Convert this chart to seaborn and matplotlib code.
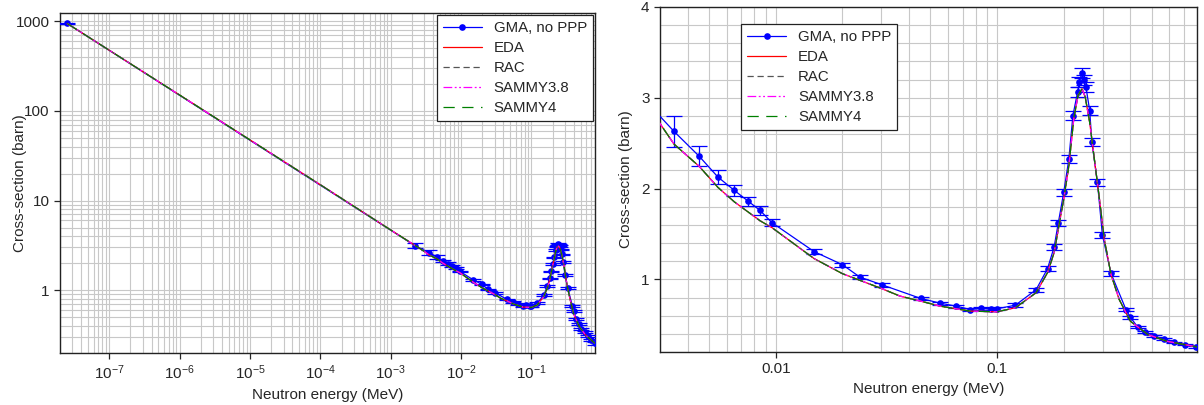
import matplotlib
matplotlib.use("Agg")
import matplotlib.pyplot as plt
import matplotlib.ticker as mticker
import numpy as np
import pandas as pd
import seaborn as sns

# ---------------- data ----------------
gma_energy = [2.53e-8, 0.0022, 0.00347, 0.00451, 0.00548, 0.0065, 0.0075, 0.0085, 0.0096,
              0.0149, 0.020, 0.024, 0.0302, 0.0452, 0.0553, 0.0654, 0.0757, 0.0846, 0.094,
              0.100, 0.121, 0.150, 0.169, 0.181, 0.189, 0.200, 0.211, 0.220, 0.231, 0.235,
              0.242, 0.246, 0.252, 0.262, 0.268, 0.284, 0.299, 0.327, 0.382, 0.400, 0.432,
              0.468, 0.514, 0.570, 0.633, 0.703, 0.795]
gma_sigma = [940, 3.15, 2.63, 2.356, 2.127, 1.98, 1.862, 1.759, 1.626,
             1.306, 1.162, 1.025, 0.94, 0.79, 0.738, 0.705, 0.668, 0.68, 0.672,
             0.676, 0.716, 0.886, 1.118, 1.357, 1.622, 1.958, 2.326, 2.804, 3.063, 3.173,
             3.276, 3.20, 3.118, 2.86, 2.51, 2.068, 1.49, 1.066, 0.668, 0.583, 0.473,
             0.418, 0.373, 0.345, 0.307, 0.282, 0.256]
gma_error = [8, 0.2, 0.17, 0.11, 0.075, 0.06, 0.05, 0.045, 0.035,
             0.025, 0.022, 0.02, 0.02, 0.018, 0.018, 0.018, 0.018, 0.018, 0.018,
             0.018, 0.02, 0.02, 0.025, 0.03, 0.035, 0.04, 0.045, 0.05, 0.055, 0.055,
             0.055, 0.055, 0.055, 0.05, 0.045, 0.04, 0.03, 0.025, 0.018, 0.015, 0.012,
             0.01, 0.01, 0.01, 0.008, 0.008, 0.008]

theory_energy = [2.53e-8, 1e-6, 1e-4, 1e-3, 0.003, 0.00347, 0.00451, 0.00548, 0.0065,
                 0.0085, 0.0096, 0.0149, 0.02, 0.0302, 0.0364, 0.0452, 0.0553, 0.0757,
                 0.1, 0.121, 0.15, 0.169, 0.181, 0.2, 0.211, 0.222, 0.232, 0.242, 0.25,
                 0.262, 0.275, 0.29, 0.305, 0.327, 0.356, 0.40, 0.48, 0.585, 0.80]
eda_sigma = [940, 150, 15, 4.7, 2.716, 2.49, 2.245, 2.013, 1.854,
             1.645, 1.571, 1.229, 1.063, 0.897, 0.816, 0.76, 0.705, 0.65,
             0.643, 0.687, 0.853, 1.074, 1.295, 1.884, 2.252, 2.768, 3.025, 3.10, 3.01,
             2.73, 2.326, 1.884, 1.442, 1.055, 0.779, 0.539, 0.392, 0.318, 0.256]
rac_sigma = list(eda_sigma)
sammy38_sigma = list(eda_sigma)
sammy4_sigma = list(eda_sigma)

left_xticks = [1e-7, 1e-6, 1e-5, 1e-4, 1e-3, 1e-2, 1e-1]
left_yticks = [1, 10, 100, 1000]
right_xticks = [0.01, 0.1]
right_xticklabels = ["0.01", "0.1"]
right_yticks = [1, 2, 3, 4]

gma_df = pd.DataFrame({"E": gma_energy, "sigma": gma_sigma, "err": gma_error})
theory_df = pd.DataFrame({"E": theory_energy, "EDA": eda_sigma, "RAC": rac_sigma,
                          "SAMMY3.8": sammy38_sigma, "SAMMY4": sammy4_sigma})

# ---------------- style ----------------
sns.set_theme(style="ticks")
plt.rcParams["font.family"] = ["Liberation Sans", "DejaVu Sans"]
plt.rcParams["mathtext.default"] = "regular"
TXT = "#262626"
plt.rcParams.update({
    "text.color": TXT, "axes.labelcolor": TXT, "xtick.color": TXT, "ytick.color": TXT,
    "axes.edgecolor": "#222222", "axes.linewidth": 1.0,
    "xtick.labelsize": 11, "ytick.labelsize": 11, "axes.labelsize": 11,
    "legend.fontsize": 10.8,
})

fig = plt.figure(figsize=(12.04, 4.05), dpi=100)
ax1 = fig.add_axes([60 / 1204, 1 - 353 / 405, (595 - 60) / 1204, (353 - 13) / 405])
ax2 = fig.add_axes([660 / 1204, 1 - 352 / 405, (1197 - 660) / 1204, (352 - 7) / 405])

theory_styles = [
    ("EDA", "red", "-"),
    ("RAC", "#555555", (0, (5, 3))),
    ("SAMMY3.8", "magenta", (0, (7, 2, 1.5, 2, 1.5, 2))),
    ("SAMMY4", "green", (0, (9, 6))),
]


def draw(ax, logy):
    ax.set_xscale("log")
    if logy:
        ax.set_yscale("log")
    ax.errorbar(gma_df["E"], gma_df["sigma"], yerr=gma_df["err"], fmt="none",
                ecolor="blue", elinewidth=0.9, capsize=6, capthick=0.9, zorder=3)
    sns.lineplot(data=gma_df, x="E", y="sigma", ax=ax, color="blue", lw=0.9,
                 marker="o", markersize=4.8, markeredgewidth=0, label="GMA, no PPP",
                 zorder=4)
    for name, col, ls in theory_styles:
        sns.lineplot(data=theory_df, x="E", y=name, ax=ax, color=col, lw=0.9,
                     linestyle=ls, label=name, zorder=5)
    ax.grid(True, which="both", color="#c8c8c8", lw=0.8)
    ax.set_axisbelow(True)
    ax.tick_params(which="minor", length=0)
    ax.tick_params(which="major", length=4, width=0.9, direction="out")
    ax.set_xlabel("Neutron energy (MeV)")
    ax.set_ylabel("Cross-section (barn)")


# left panel
draw(ax1, True)
ax1.set_xlim(2e-8, 0.8)
ax1.set_ylim(0.2, 1230)
ax1.xaxis.set_major_locator(mticker.FixedLocator(left_xticks))
ax1.xaxis.set_minor_locator(mticker.LogLocator(base=10, subs=np.arange(2, 10), numticks=30))
ax1.xaxis.set_minor_formatter(mticker.NullFormatter())
ax1.yaxis.set_major_locator(mticker.FixedLocator(left_yticks))
ax1.yaxis.set_major_formatter(mticker.FixedFormatter([str(v) for v in left_yticks]))
ax1.yaxis.set_minor_locator(mticker.LogLocator(base=10, subs=np.arange(2, 10), numticks=30))
ax1.yaxis.set_minor_formatter(mticker.NullFormatter())
ax1.yaxis.set_label_coords((27 - 60) / 535, 0.5)
leg1 = ax1.legend(loc="upper right", borderaxespad=0.15, fancybox=False, framealpha=1,
                  edgecolor="#222222", handlelength=2.6, labelspacing=0.4)
leg1.get_frame().set_linewidth(0.9)

# right panel
draw(ax2, False)
ax2.set_xlim(0.003, 0.8)
ax2.set_ylim(0.2, 4)
ax2.xaxis.set_major_locator(mticker.FixedLocator(right_xticks))
ax2.xaxis.set_major_formatter(mticker.FixedFormatter(right_xticklabels))
ax2.xaxis.set_minor_locator(mticker.LogLocator(base=10, subs=np.arange(2, 10), numticks=30))
ax2.xaxis.set_minor_formatter(mticker.NullFormatter())
ax2.yaxis.set_major_locator(mticker.FixedLocator(right_yticks))
ax2.yaxis.set_minor_locator(mticker.MultipleLocator(0.2))
ax2.yaxis.set_label_coords((633 - 660) / 537, 0.5)
leg2 = ax2.legend(loc="upper left", bbox_to_anchor=(0.151, 0.951), borderaxespad=0,
                  fancybox=False, framealpha=1, edgecolor="#222222", handlelength=2.6,
                  labelspacing=0.4)
leg2.get_frame().set_linewidth(0.9)

fig.savefig("out.png", dpi=100)
